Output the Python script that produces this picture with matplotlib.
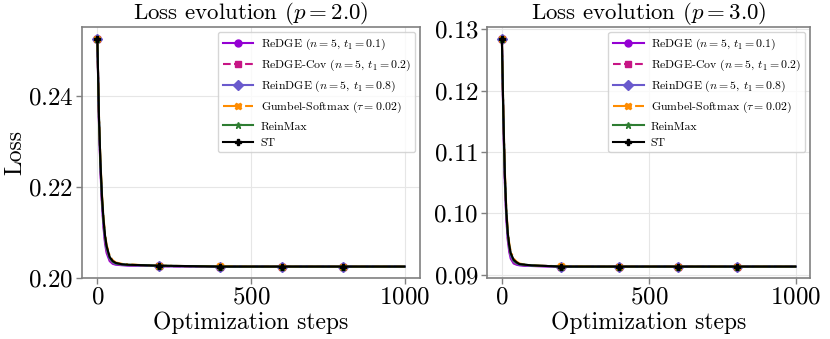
import matplotlib
matplotlib.use("Agg")
import matplotlib.pyplot as plt

plt.rcParams["font.family"] = "cmr10"
plt.rcParams["mathtext.fontset"] = "cm"
plt.rcParams["axes.unicode_minus"] = False
plt.rcParams["axes.formatter.use_mathtext"] = True

steps = [0, 5, 10, 15, 20, 25, 30, 40, 50, 60, 80, 100, 150, 200, 300, 400, 500, 600, 700, 800, 900, 999]

# p = 2.0 panel
redge_p2 = [0.2525, 0.2345, 0.2235, 0.2160, 0.2110, 0.2075, 0.2055, 0.2037, 0.2031, 0.2029, 0.2028, 0.2027, 0.2027, 0.2026, 0.2025, 0.2025, 0.2025, 0.2025, 0.2025, 0.2025, 0.2025, 0.2025]
redge_cov_p2 = [0.2525, 0.2350, 0.2242, 0.2166, 0.2116, 0.2081, 0.2060, 0.2040, 0.2033, 0.2030, 0.2029, 0.2028, 0.2027, 0.2026, 0.2025, 0.2025, 0.2025, 0.2025, 0.2025, 0.2025, 0.2025, 0.2025]
reindge_p2 = [0.2525, 0.2352, 0.2245, 0.2170, 0.2120, 0.2085, 0.2063, 0.2042, 0.2034, 0.2031, 0.2029, 0.2028, 0.2027, 0.2026, 0.2025, 0.2025, 0.2025, 0.2025, 0.2025, 0.2025, 0.2025, 0.2025]
gumbel_p2 = [0.2525, 0.2362, 0.2258, 0.2184, 0.2133, 0.2097, 0.2073, 0.2049, 0.2039, 0.2034, 0.2031, 0.2030, 0.2028, 0.2027, 0.2026, 0.2026, 0.2025, 0.2025, 0.2025, 0.2025, 0.2025, 0.2025]
reinmax_p2 = [0.2525, 0.2357, 0.2252, 0.2177, 0.2126, 0.2091, 0.2068, 0.2045, 0.2036, 0.2032, 0.2030, 0.2029, 0.2028, 0.2027, 0.2026, 0.2025, 0.2025, 0.2025, 0.2025, 0.2025, 0.2025, 0.2025]
st_p2 = [0.2525, 0.2358, 0.2254, 0.2179, 0.2128, 0.2093, 0.2070, 0.2046, 0.2037, 0.2033, 0.2030, 0.2029, 0.2028, 0.2027, 0.2026, 0.2025, 0.2025, 0.2025, 0.2025, 0.2025, 0.2025, 0.2025]

# p = 3.0 panel
redge_p3 = [0.1285, 0.1150, 0.1050, 0.0990, 0.0956, 0.0937, 0.0926, 0.0918, 0.0916, 0.0915, 0.0914, 0.0914, 0.0913, 0.0913, 0.0913, 0.0913, 0.0913, 0.0913, 0.0913, 0.0913, 0.0913, 0.0913]
redge_cov_p3 = [0.1285, 0.1154, 0.1055, 0.0995, 0.0960, 0.0941, 0.0929, 0.0920, 0.0917, 0.0916, 0.0915, 0.0914, 0.0914, 0.0913, 0.0913, 0.0913, 0.0913, 0.0913, 0.0913, 0.0913, 0.0913, 0.0913]
reindge_p3 = [0.1285, 0.1156, 0.1058, 0.0998, 0.0963, 0.0943, 0.0931, 0.0921, 0.0918, 0.0916, 0.0915, 0.0914, 0.0914, 0.0913, 0.0913, 0.0913, 0.0913, 0.0913, 0.0913, 0.0913, 0.0913, 0.0913]
gumbel_p3 = [0.1285, 0.1166, 0.1070, 0.1008, 0.0972, 0.0951, 0.0938, 0.0926, 0.0921, 0.0918, 0.0916, 0.0915, 0.0914, 0.0914, 0.0913, 0.0913, 0.0913, 0.0913, 0.0913, 0.0913, 0.0913, 0.0913]
reinmax_p3 = [0.1285, 0.1161, 0.1063, 0.1003, 0.0967, 0.0947, 0.0934, 0.0923, 0.0919, 0.0917, 0.0916, 0.0915, 0.0914, 0.0913, 0.0913, 0.0913, 0.0913, 0.0913, 0.0913, 0.0913, 0.0913, 0.0913]
st_p3 = [0.1285, 0.1162, 0.1065, 0.1004, 0.0968, 0.0948, 0.0935, 0.0924, 0.0920, 0.0917, 0.0916, 0.0915, 0.0914, 0.0913, 0.0913, 0.0913, 0.0913, 0.0913, 0.0913, 0.0913, 0.0913, 0.0913]

labels = [
    r"ReDGE ($n=5$, $t_1=0.1$)",
    r"ReDGE-Cov ($n=5$, $t_1=0.2$)",
    r"ReinDGE ($n=5$, $t_1=0.8$)",
    r"Gumbel-Softmax ($\tau=0.02$)",
    "ReinMax",
    "ST",
]
colors = ["#9400D3", "#C71585", "#6A5ACD", "#FF8C00", "#2E7D32", "black"]
markers = ["o", "s", "D", "X", "*", "P"]
styles = ["-", "--", "-", "-.", "-", "-"]

mark_idx = [steps.index(s) for s in [0, 200, 400, 600, 800]]


def plot_panel(ax, series, p):
    for vals, lab, c, m, ls in zip(series, labels, colors, markers, styles):
        ax.plot(steps, vals, color=c, marker=m, linestyle=ls, linewidth=1.5,
                markersize=5, markevery=mark_idx, label=lab)
    ax.set_title(r"Loss evolution ($p=%.1f$)" % p, fontsize=16.5, pad=2)
    ax.set_xlabel("Optimization steps", fontsize=17, labelpad=2)
    ax.set_xticks([0, 500, 1000])
    ax.tick_params(labelsize=18, color="#808080", length=4, width=1, pad=2)
    ax.grid(True, color="#e6e6e6", linewidth=0.8)
    ax.set_axisbelow(True)
    for sp in ax.spines.values():
        sp.set_color("#808080")
        sp.set_linewidth(1.2)
    leg = ax.legend(loc="upper right", fontsize=8.5, frameon=True, fancybox=True,
                    borderpad=0.4, labelspacing=0.5, handlelength=2.6,
                    handletextpad=0.6, borderaxespad=0.4)
    leg.get_frame().set_edgecolor("#cccccc")


fig = plt.figure(figsize=(8.30, 3.39), dpi=100)
ax1 = fig.add_axes([0.0988, 0.180, 0.407, 0.740])
ax2 = fig.add_axes([0.587, 0.180, 0.389, 0.740])

plot_panel(ax1, [redge_p2, redge_cov_p2, reindge_p2, gumbel_p2, reinmax_p2, st_p2], 2.0)
ax1.set_yticks([0.20, 0.22, 0.24])
ax1.set_ylabel("Loss", fontsize=17, labelpad=1)

plot_panel(ax2, [redge_p3, redge_cov_p3, reindge_p3, gumbel_p3, reinmax_p3, st_p3], 3.0)
ax2.set_yticks([0.09, 0.10, 0.11, 0.12, 0.13])

fig.savefig("out.png", dpi=100)
